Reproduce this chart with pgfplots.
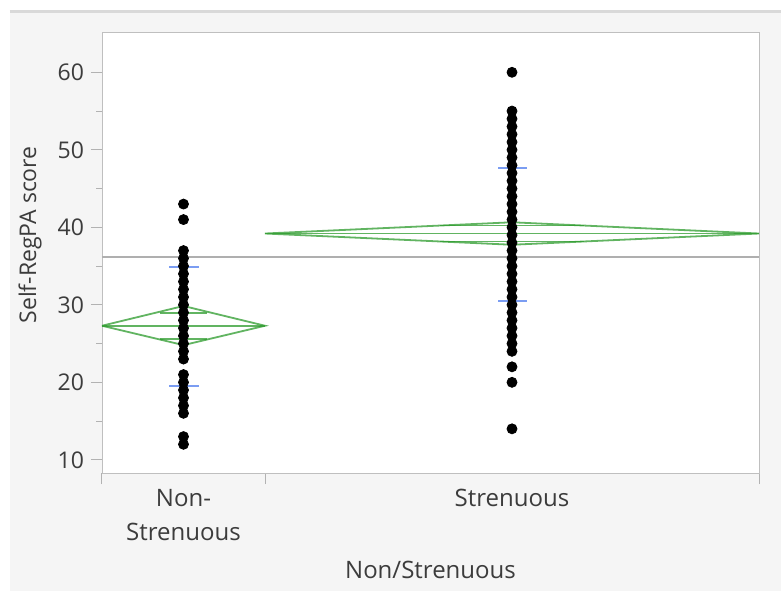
\documentclass[border=0pt]{standalone}
\usepackage{fontspec}
\setmainfont{Open Sans}
\usepackage{pgfplots}
\pgfplotsset{compat=1.18}

\definecolor{panel}{RGB}{245,245,245}
\definecolor{diamond}{RGB}{45,155,45}
\definecolor{sdblue}{RGB}{100,140,240}
\definecolor{meanline}{RGB}{175,175,175}
\definecolor{labeltext}{RGB}{60,60,60}

% x runs in screen units: Non-Strenuous takes 0..163, Strenuous 163..657
\pgfplotstableread{
x y
81.5 43
81.5 41
81.5 37
81.5 36
81.5 35
81.5 34
81.5 33
81.5 32
81.5 31
81.5 30
81.5 29
81.5 28
81.5 27
81.5 26
81.5 25
81.5 24
81.5 23
81.5 21
81.5 20
81.5 19
81.5 18
81.5 17
81.5 16
81.5 13
81.5 12
}\nonstrenuous

\pgfplotstableread{
x y
410 60
410 55
410 54
410 53
410 52
410 51
410 50
410 49
410 48
410 47
410 46
410 45
410 44
410 43
410 42
410 41
410 40
410 39
410 38
410 37
410 36
410 35
410 34
410 33
410 32
410 31
410 30
410 29
410 28
410 27
410 26
410 25
410 24
410 22
410 20
410 14
}\strenuous

\begin{document}
\begin{tikzpicture}
\useasboundingbox (-51pt,-59pt) rectangle (339.5pt,236.5pt);
\fill[panel] (-46pt,-59pt) rectangle (339.5pt,231.5pt);
\draw[black!15, line width=1.5pt] (-46pt,231pt) -- (339.5pt,231pt);
\begin{axis}[
    scale only axis,
    width=328.5pt,
    height=220.5pt,
    axis background/.style={fill=white},
    axis line style={black!25},
    xmin=0, xmax=657,
    ymin=8.3, ymax=65.2,
    xtick={0,163,657},
    xticklabels={},
    extra x ticks={81.5,410},
    extra x tick labels={Non-\\Strenuous, Strenuous},
    extra x tick style={tick style={draw=none}},
    xticklabel style={align=center, anchor=north, font=\fontsize{12}{17}\selectfont, text=labeltext, yshift=1pt},
    ytick={10,20,30,40,50,60},
    minor y tick num=1,
    tick align=outside,
    xtick pos=bottom,
    ytick pos=left,
    major tick length=5.5pt,
    minor tick length=2.8pt,
    tick style={black!30, line width=0.5pt},
    yticklabel style={font=\fontsize{11.5}{14}\selectfont, text=labeltext},
    /pgf/number format/assume math mode=true,
    ylabel={Self-RegPA score},
    ylabel style={at={(axis description cs:-0.1096,0.54)}, anchor=center, font=\fontsize{11.5}{14}\selectfont, text=labeltext},
    xlabel={Non/Strenuous},
    xlabel style={at={(axis description cs:0.5,0)}, anchor=center, yshift=-48.5pt, font=\fontsize{12}{14}\selectfont, text=labeltext},
    clip=false,
]
% grand mean
\addplot[meanline, line width=1pt] coordinates {(0,36.15) (657,36.15)};

% observations
\addplot[only marks, mark=*, mark size=2.5pt, black] table[x=x, y=y] {\nonstrenuous};
\addplot[only marks, mark=*, mark size=2.5pt, black] table[x=x, y=y] {\strenuous};

% means diamonds
\pgfplotsset{dia/.style={diamond, line width=0.9pt, opacity=0.75}}
\addplot[dia] coordinates {(0,27.3) (81.5,29.85) (163,27.3) (81.5,24.8) (0,27.3)};
\addplot[dia] coordinates {(0,27.3) (163,27.3)};
\addplot[dia] coordinates {(58,28.98) (105,28.98)};
\addplot[dia] coordinates {(58,25.62) (105,25.62)};

\addplot[dia] coordinates {(163,39.2) (410,40.65) (657,39.2) (410,37.75) (163,39.2)};
\addplot[dia] coordinates {(163,39.2) (657,39.2)};
\addplot[dia] coordinates {(338,40.23) (482,40.23)};
\addplot[dia] coordinates {(338,38.17) (482,38.17)};

% std dev marks
\addplot[sdblue, line width=1pt, opacity=0.85] coordinates {(67,34.83) (97,34.83)};
\addplot[sdblue, line width=1pt, opacity=0.85] coordinates {(67,19.54) (97,19.54)};
\addplot[sdblue, line width=1pt, opacity=0.85] coordinates {(396,47.67) (425,47.67)};
\addplot[sdblue, line width=1pt, opacity=0.85] coordinates {(396,30.49) (425,30.49)};
\end{axis}
\end{tikzpicture}
\end{document}
